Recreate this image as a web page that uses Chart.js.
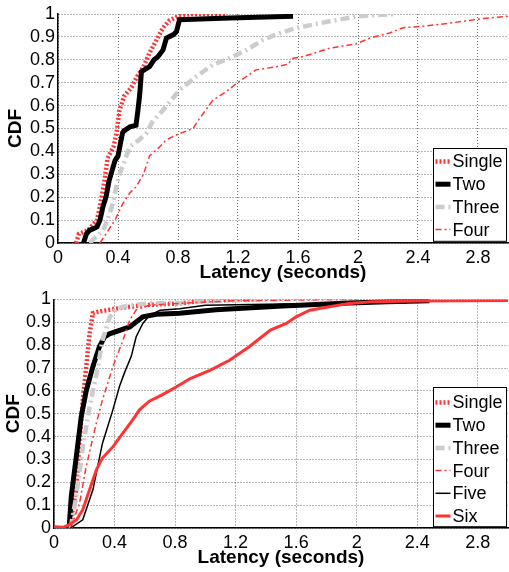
<!DOCTYPE html>
<html>
<head>
<meta charset="utf-8">
<script src="https://cdn.jsdelivr.net/npm/chart.js@4"></script>
<style>
  body { margin: 0; background: #fff; }
  #top { position: absolute; left: 0; top: 0; }
  #bottom { position: absolute; left: 0; top: 285px; }
</style>
</head>
<body>
<canvas id="top" width="509" height="285"></canvas>
<canvas id="bottom" width="509" height="287"></canvas>
<script>
// CDF points, [latency seconds, cdf]
const topSingle = [[0.12,0],[0.14,0.04],[0.2,0.055],[0.26,0.1],[0.28,0.16],[0.31,0.27],[0.33,0.37],[0.37,0.42],[0.39,0.48],[0.41,0.58],[0.44,0.64],[0.49,0.68],[0.53,0.73],[0.57,0.77],[0.61,0.83],[0.66,0.89],[0.7,0.94],[0.74,0.97],[0.8,0.99],[0.88,1.0],[1.12,1.0]];
const topTwo = [[0.17,0],[0.19,0.04],[0.21,0.055],[0.26,0.07],[0.28,0.1],[0.3,0.16],[0.32,0.2],[0.34,0.27],[0.38,0.36],[0.4,0.38],[0.43,0.48],[0.44,0.49],[0.48,0.507],[0.52,0.514],[0.533,0.58],[0.545,0.65],[0.556,0.748],[0.61,0.77],[0.64,0.8],[0.667,0.814],[0.7,0.843],[0.723,0.895],[0.77,0.91],[0.79,0.924],[0.81,0.975],[1.145,0.982],[1.567,0.99]];
const topThree = [[0.21,0],[0.26,0.03],[0.3,0.055],[0.32,0.085],[0.36,0.16],[0.39,0.25],[0.41,0.3],[0.44,0.35],[0.478,0.42],[0.54,0.45],[0.59,0.48],[0.63,0.53],[0.7,0.58],[0.75,0.62],[0.81,0.668],[0.92,0.726],[1.03,0.778],[1.145,0.807],[1.256,0.843],[1.367,0.887],[1.48,0.917],[1.59,0.939],[1.81,0.968],[2.0,0.99],[2.1,0.995],[2.26,1.0]];
const topFour = [[0.28,0],[0.32,0.04],[0.38,0.1],[0.43,0.17],[0.48,0.22],[0.52,0.245],[0.57,0.3],[0.61,0.38],[0.678,0.42],[0.72,0.45],[0.81,0.478],[0.9,0.5],[0.94,0.54],[1.033,0.624],[1.12,0.66],[1.19,0.697],[1.32,0.756],[1.456,0.77],[1.53,0.78],[1.567,0.807],[1.633,0.814],[1.81,0.85],[1.99,0.87],[2.08,0.895],[2.21,0.917],[2.3,0.94],[2.43,0.946],[2.61,0.96],[2.83,0.98],[3.0,0.99]];

const botSingle = [[0.1,0],[0.147,0.167],[0.169,0.385],[0.19,0.56],[0.213,0.706],[0.235,0.85],[0.257,0.94],[0.29,0.946],[0.41,0.96],[0.587,0.975],[0.83,0.983],[1.0,0.995],[1.3,1.0]];
const botTwo = [[0.1,0],[0.114,0.138],[0.147,0.31],[0.18,0.487],[0.213,0.6],[0.257,0.706],[0.3,0.793],[0.334,0.837],[0.367,0.85],[0.5,0.88],[0.587,0.924],[0.676,0.935],[0.83,0.94],[1.07,0.955],[1.51,0.972],[1.95,0.985],[2.2,0.99],[2.48,0.995]];
const botThree = [[0.11,0],[0.147,0.138],[0.19,0.35],[0.235,0.53],[0.28,0.67],[0.32,0.82],[0.367,0.92],[0.41,0.96],[0.5,0.975],[0.63,0.983],[0.83,0.985],[1.1,0.995],[1.5,1.0]];
const botFour = [[0.11,0],[0.169,0.11],[0.213,0.27],[0.28,0.46],[0.32,0.56],[0.389,0.706],[0.455,0.82],[0.5,0.91],[0.543,0.955],[0.63,0.975],[0.83,0.983],[1.2,0.995],[2.0,1.0]];
const botFive = [[0.11,0],[0.19,0.036],[0.257,0.167],[0.32,0.37],[0.389,0.517],[0.433,0.62],[0.466,0.68],[0.51,0.75],[0.543,0.837],[0.587,0.895],[0.63,0.93],[0.7,0.953],[0.83,0.96],[1.0,0.975],[1.5,0.98],[2.33,0.985]];
const botSix = [[0,0.005],[0.06,0.003],[0.1,0.015],[0.15,0.036],[0.19,0.08],[0.235,0.167],[0.28,0.255],[0.32,0.306],[0.39,0.356],[0.455,0.415],[0.52,0.473],[0.565,0.517],[0.63,0.555],[0.72,0.585],[0.81,0.618],[0.9,0.654],[1.03,0.69],[1.16,0.734],[1.29,0.793],[1.43,0.866],[1.535,0.895],[1.6,0.924],[1.69,0.953],[1.82,0.968],[1.95,0.983],[2.1,0.99],[2.4,0.993],[3.0,0.996]];

const topLabels = ['Single', 'Two', 'Three', 'Four'];
const botLabels = ['Single', 'Two', 'Three', 'Four', 'Five', 'Six'];
const xTicks = [0, 0.4, 0.8, 1.2, 1.6, 2, 2.4, 2.8];
const yTicks = [0, 0.1, 0.2, 0.3, 0.4, 0.5, 0.6, 0.7, 0.8, 0.9, 1];

const RED = '#ff3333';
const GRAY = '#cccccc';
const FONT = 'Liberation Sans, Arial, Helvetica, sans-serif';

// line styles, matlab-ish
const styles = {
    Single: { color: RED, width: 4.5, dash: [2, 2] },
    Two: { color: '#000', width: 5, dash: [] },
    Three: { color: GRAY, width: 4.5, dash: [9, 4, 2, 4] },
    Four: { color: RED, width: 1.5, dash: [6, 3, 2, 3] },
    Five: { color: '#000', width: 1.5, dash: [] },
    Six: { color: RED, width: 3, dash: [] }
};

function toPoints(arr) {
    return arr.map(p => ({ x: p[0], y: p[1] }));
}

function makeDatasets(labels, series) {
    return labels.map((name, i) => ({
        label: name,
        data: toPoints(series[i]),
        borderColor: styles[name].color,
        borderWidth: styles[name].width,
        borderDash: styles[name].dash,
        pointRadius: 0,
        fill: false,
        tension: 0,
        // later series drawn on top
        order: labels.length - i
    }));
}

// dotted grid lines (border.dash applies to the grid in v4)
function gridOpts() {
    return {
        display: true,
        color: '#6e6e6e',
        lineWidth: 1,
        drawTicks: false,
        drawOnChartArea: true
    };
}

// legend box in the lower right corner of the plot
const boxLegend = {
    id: 'boxLegend',
    afterDraw(chart, args, opts) {
        const ctx = chart.ctx;
        const area = chart.chartArea;
        const sets = chart.data.datasets;
        ctx.save();
        ctx.font = '18px ' + FONT;
        let tw = 0;
        sets.forEach(d => { tw = Math.max(tw, ctx.measureText(d.label).width); });
        const w = 19 + tw + 4;
        const h = opts.rowH * (sets.length - 1) + opts.padTop + opts.padBottom;
        const x0 = Math.round(area.right - opts.inset - w) + 0.5;
        const y0 = Math.round(area.bottom - opts.inset - h) + 0.5;
        ctx.fillStyle = '#fff';
        ctx.fillRect(x0, y0, w, h);
        ctx.strokeStyle = '#000';
        ctx.lineWidth = 1;
        ctx.setLineDash([]);
        ctx.strokeRect(x0, y0, w, h);
        sets.forEach((d, i) => {
            const y = y0 + opts.padTop + i * opts.rowH;
            ctx.strokeStyle = d.borderColor;
            ctx.lineWidth = d.borderWidth;
            ctx.setLineDash(d.borderDash);
            ctx.beginPath();
            ctx.moveTo(x0 + 2, y);
            ctx.lineTo(x0 + 17, y);
            ctx.stroke();
            ctx.setLineDash([]);
            ctx.fillStyle = '#000';
            ctx.textBaseline = 'middle';
            ctx.fillText(d.label, x0 + 19, y + 1);
        });
        ctx.restore();
    }
};

function fmt(v) {
    return String(+v.toFixed(1));
}

function makeChart(id, labels, series, lay) {
    return new Chart(document.getElementById(id), {
        type: 'line',
        data: { datasets: makeDatasets(labels, series) },
        plugins: [boxLegend],
        options: {
            responsive: false,
            animation: false,
            layout: { padding: { top: lay.top, right: 1, left: 0, bottom: 0 } },
            plugins: {
                legend: { display: false },
                tooltip: { enabled: false },
                boxLegend: lay.legend
            },
            scales: {
                x: {
                    type: 'linear',
                    min: 0,
                    max: 3,
                    afterBuildTicks: s => { s.ticks = xTicks.map(v => ({ value: v })); },
                    afterFit: s => { s.height = lay.xh; },
                    grid: gridOpts(),
                    border: { display: true, color: '#000', width: 1.5, dash: [1, 2] },
                    ticks: {
                        color: '#000',
                        padding: 4,
                        maxRotation: 0,
                        autoSkip: false,
                        font: { family: FONT, size: 18 },
                        callback: v => fmt(v)
                    },
                    title: {
                        display: true,
                        text: 'Latency (seconds)',
                        color: '#000',
                        font: { family: FONT, size: 19, weight: 'bold' },
                        padding: { top: 0, bottom: lay.xtp }
                    }
                },
                y: {
                    type: 'linear',
                    min: 0,
                    max: 1,
                    afterBuildTicks: s => { s.ticks = yTicks.map(v => ({ value: v })); },
                    afterFit: s => { s.width = lay.yw; },
                    grid: gridOpts(),
                    border: { display: true, color: '#000', width: 1.5, dash: [1, 2] },
                    ticks: {
                        color: '#000',
                        padding: 3,
                        autoSkip: false,
                        font: { family: FONT, size: 18 },
                        callback: v => fmt(v)
                    },
                    title: {
                        display: true,
                        text: 'CDF',
                        color: '#000',
                        font: { family: FONT, size: 19, weight: 'bold' },
                        padding: { top: lay.ytp, bottom: 0 }
                    }
                }
            }
        }
    });
}

makeChart('top', topLabels, [topSingle, topTwo, topThree, topFour],
    { top: 14, xh: 42, yw: 58, xtp: 0.6, ytp: 4.6, legend: { inset: 2, rowH: 22.7, padTop: 13, padBottom: 11.7 } });
makeChart('bottom', botLabels, [botSingle, botTwo, botThree, botFour, botFive, botSix],
    { top: 14.5, xh: 44, yw: 54, xtp: 2.6, ytp: 2.6, legend: { inset: 2, rowH: 22.7, padTop: 15, padBottom: 10.7 } });
</script>
</body>
</html>
